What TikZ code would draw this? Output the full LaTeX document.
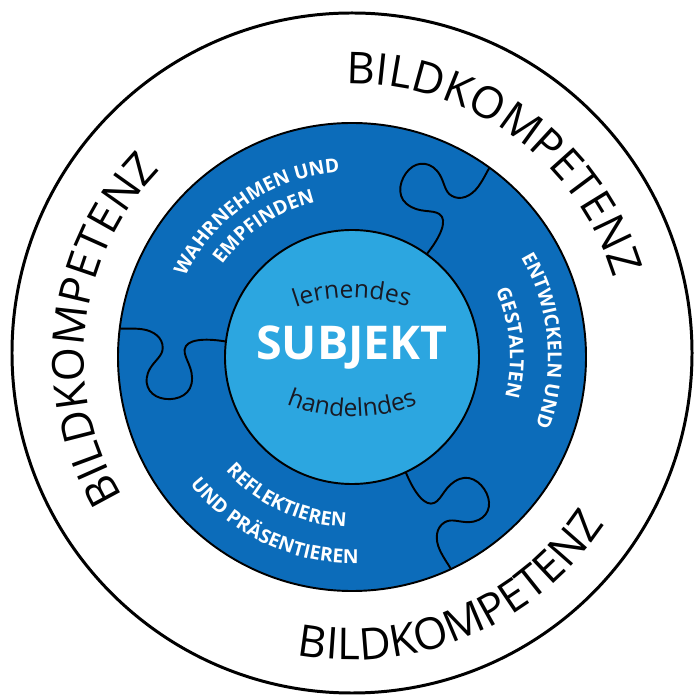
\documentclass[tikz,border=0pt]{standalone}
\usepackage{fontspec}
\setmainfont{Open Sans}
\usetikzlibrary{decorations.text}
\definecolor{ringblue}{RGB}{12,108,186}
\definecolor{coreblue}{RGB}{44,166,224}
\definecolor{darkink}{RGB}{25,25,35}

\newcommand{\bigword}{\fontsize{25}{30}\selectfont}
\newcommand{\piecefont}{\color{white}\bfseries\fontsize{11}{13}\selectfont}
\newcommand{\corefont}{\color{darkink}\fontsize{14}{17}\selectfont}

\newcommand{\seam}[1]{%
\draw[seamline,rotate=#1] (127,0)
	.. controls (150,-1) and (167,3) .. (167,13)
	.. controls (167,22) and (155,30) .. (156,46)
	.. controls (157,60) and (173,66) .. (185,64)
	.. controls (198,62) and (205,50) .. (199,36)
	.. controls (195,27) and (188,22) .. (189,14)
	.. controls (190,4) and (200,-2) .. (212,-2)
	.. controls (222,-2) and (230,0) .. (234,0);}
\newcommand{\cwtext}[4]{%
\path[decorate,decoration={text along path,text align=center,text={|#3|#4}}]
	({#1+90}:#2) arc[start angle={#1+90},end angle={#1-90},radius=#2];}
\newcommand{\ccwtext}[4]{%
\path[decorate,decoration={text along path,text align=center,text={|#3|#4}}]
	({#1-90}:#2) arc[start angle={#1-90},end angle={#1+90},radius=#2];}

\begin{document}
\begin{tikzpicture}[x=0.02cm,y=0.02cm,
	seamline/.style={line width=1.1pt,line join=round},
	ringedge/.style={line width=1.1pt}]
\useasboundingbox (-352,-338) rectangle (343,357);
\coordinate (c) at (0,0);
\draw[line width=1.7pt,fill=white] (0,4) circle[radius=340];
\draw[ringedge,fill=ringblue] (c) circle[radius=234];
\seam{54}
\seam{173}
\seam{-65}
\draw[ringedge,fill=coreblue] (c) circle[radius=127];

\cwtext{54}{273}{\bigword}{BILDKOMPETENZ}
\cwtext{173.5}{268}{\bigword}{BILDKOMPETENZ}
\ccwtext{-67}{303}{\bigword}{BILDKOMPETENZ}

\cwtext{124}{185}{\piecefont}{WAHRNEHMEN UND}
\cwtext{124}{159}{\piecefont}{EMPFINDEN}
\cwtext{5}{196}{\piecefont}{ENTWICKELN UND}
\cwtext{5}{158}{\piecefont}{GESTALTEN}
\ccwtext{245}{170}{\piecefont}{REFLEKTIEREN}
\ccwtext{245}{206}{\piecefont}{UND PRÄSENTIEREN}

\begin{scope}[shift={(0,-111)}]
\cwtext{90}{170}{\corefont}{lernendes}
\end{scope}
\begin{scope}[shift={(0,110)}]
\ccwtext{-90}{170}{\corefont}{handelndes}
\end{scope}
\node[text=white,font=\bfseries\fontsize{26.5}{32}\selectfont] (subjekt) at (0,9) {SUBJEKT};
\end{tikzpicture}
\end{document}
